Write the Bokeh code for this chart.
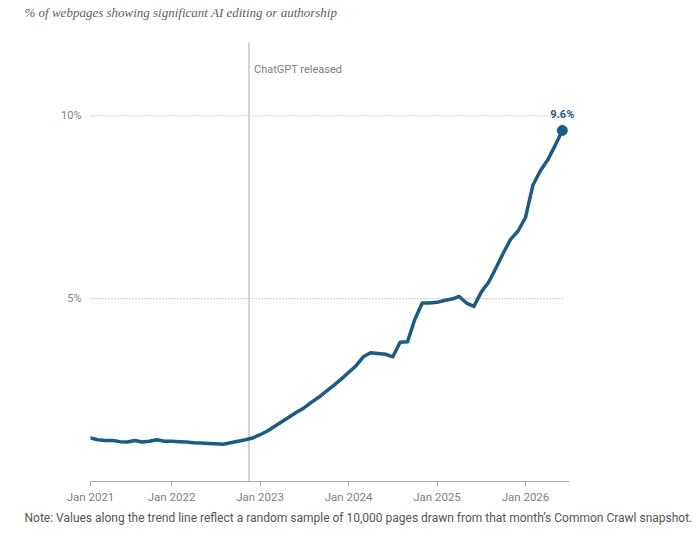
from bokeh.plotting import figure
from bokeh.models import Range1d, FixedTicker, Label, Title
from bokeh.embed import file_html
from bokeh.resources import INLINE

# Share of webpages (%) showing significant AI editing or authorship, monthly from Feb 2021
share = [1.19, 1.14, 1.12, 1.12, 1.09, 1.08, 1.12, 1.08, 1.10, 1.14,
         1.10, 1.10, 1.09, 1.08, 1.06, 1.05, 1.04, 1.03, 1.02, 1.06,
         1.10, 1.14, 1.19, 1.28, 1.38, 1.51, 1.64, 1.77, 1.90, 2.02,
         2.17, 2.31, 2.47, 2.63, 2.80, 2.98, 3.16, 3.41, 3.52, 3.50,
         3.48, 3.41, 3.81, 3.82, 4.44, 4.88, 4.88, 4.90, 4.95, 4.99,
         5.06, 4.88, 4.79, 5.18, 5.45, 5.84, 6.25, 6.63, 6.85, 7.22,
         8.10, 8.49, 8.79, 9.18, 9.60]
# months since Jan 2021 for each snapshot
month_index = list(range(1, len(share) + 1))

tick_positions = [1, 12, 24, 36, 48, 60]
tick_labels = ["Jan 2021", "Jan 2022", "Jan 2023", "Jan 2024", "Jan 2025", "Jan 2026"]
axis_end = 65.94
grid_levels = [5, 10]
grid_labels = ["5%", "10%"]
release_month = 22.5
release_label = "ChatGPT released"
y_top = 12

title_text = "% of webpages showing significant AI editing or authorship"
note_text = ("Note: Values along the trend line reflect a random sample of 10,000 pages "
             "drawn from that month\u2019s Common Crawl snapshot.")

LINE = "#1b5b84"
SANS = "Roboto"

p = figure(width=692, height=527, output_backend="svg", toolbar_location=None,
           x_range=Range1d(1, 67.6), y_range=Range1d(0, 12.58),
           min_border_left=90, min_border_right=111, min_border_top=0,
           min_border_bottom=46)
p.outline_line_color = None
p.xgrid.visible = False
p.ygrid.visible = False
p.background_fill_color = "white"

p.title.text = title_text
p.title.align = "left"
p.title.offset = -66
p.title.standoff = 4
p.title.text_font = "Liberation Serif"
p.title.text_font_style = "italic"
p.title.text_font_size = "13px"
p.title.text_color = "#606060"

# x axis
xa = p.xaxis[0]
xa.bounds = (month_index[0], axis_end)
xa.ticker = FixedTicker(ticks=tick_positions)
xa.major_label_overrides = {t: l for t, l in zip(tick_positions, tick_labels)}
xa.axis_line_color = "#aaaaaa"
xa.major_tick_line_color = "#aaaaaa"
xa.major_tick_out = 5
xa.major_tick_in = 0
xa.minor_tick_line_color = None
xa.major_label_text_font = SANS
xa.major_label_text_font_size = "11.5px"
xa.major_label_text_color = "#808080"
xa.major_label_standoff = 3

# y axis
ya = p.yaxis[0]
ya.ticker = FixedTicker(ticks=grid_levels)
ya.major_label_overrides = {t: l for t, l in zip(grid_levels, grid_labels)}
ya.axis_line_color = None
ya.major_tick_line_color = None
ya.minor_tick_line_color = None
ya.major_label_text_font = SANS
ya.major_label_text_font_size = "11px"
ya.major_label_text_color = "#808080"
ya.major_label_standoff = 3

# dotted gridlines at 5% and 10%
p.segment(x0=[month_index[0]] * len(grid_levels), x1=[month_index[-1]] * len(grid_levels),
          y0=grid_levels, y1=grid_levels, line_color="#999999", line_width=1,
          line_dash="1 2")

# ChatGPT release line
p.segment(x0=[release_month], x1=[release_month], y0=[0], y1=[y_top],
          line_color="#aaaaaa", line_width=1)
p.add_layout(Label(x=release_month, y=11.26, x_offset=5, text=release_label,
                   text_baseline="middle", text_font=SANS, text_font_size="11px",
                   text_color="#808080"))

# trend line
p.line(month_index, share, line_color=LINE, line_width=3.5, line_join="round",
       line_cap="round")
p.scatter([month_index[-1]], [share[-1]], size=10, color=LINE)
p.add_layout(Label(x=month_index[-1], y=share[-1], y_offset=9, text=f"{share[-1]:.1f}%",
                   text_align="center", text_baseline="bottom", text_font=SANS,
                   text_font_size="11px", text_font_style="bold", text_color=LINE))

# note
p.add_layout(Title(text=note_text, align="left", offset=-66, standoff=4, text_font=SANS,
                   text_font_size="12px", text_font_style="normal",
                   text_color="#555555"), "below")

open("out.html", "w").write(file_html(p, INLINE))
